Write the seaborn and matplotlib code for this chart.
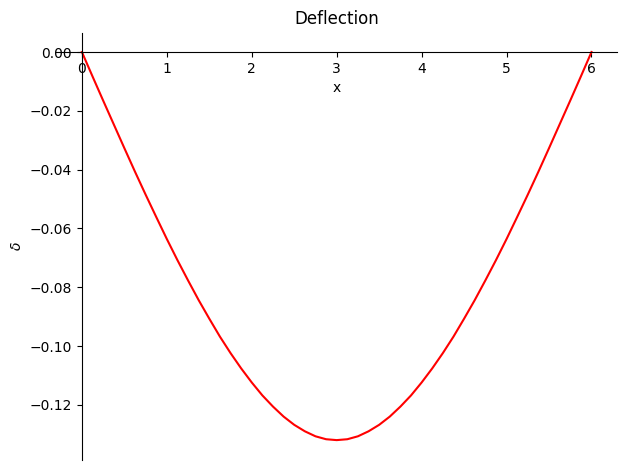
import matplotlib
matplotlib.use("Agg")
import matplotlib.pyplot as plt
import seaborn as sns
import pandas as pd

# values
x_vals = [0.0, 0.125, 0.25, 0.375, 0.5, 0.625, 0.75, 0.875, 1.0, 1.125, 1.25, 1.375,
          1.5, 1.625, 1.75, 1.875, 2.0, 2.125, 2.25, 2.375, 2.5, 2.625, 2.75, 2.875,
          3.0,
          3.125, 3.25, 3.375, 3.5, 3.625, 3.75, 3.875, 4.0, 4.125, 4.25, 4.375,
          4.5, 4.625, 4.75, 4.875, 5.0, 5.125, 5.25, 5.375, 5.5, 5.625, 5.75, 5.875,
          6.0]
deflection = [0.0, -0.0083, -0.0165, -0.0246, -0.0327, -0.0407, -0.0485, -0.0561,
              -0.0636, -0.0708, -0.0777, -0.0844, -0.0907, -0.0968, -0.1024, -0.1076,
              -0.1124, -0.1168, -0.1206, -0.1240, -0.1268, -0.1290, -0.1307, -0.1317,
              -0.1320,
              -0.1317, -0.1307, -0.1290, -0.1268, -0.1240, -0.1206, -0.1168, -0.1124,
              -0.1076, -0.1024, -0.0968, -0.0907, -0.0844, -0.0777, -0.0708, -0.0636,
              -0.0561, -0.0485, -0.0407, -0.0327, -0.0246, -0.0165, -0.0083, 0.0]

df = pd.DataFrame({"x": x_vals, "delta": deflection})

fig, ax = plt.subplots(figsize=(6.27, 4.70), dpi=100)
fig.subplots_adjust(left=0.090, right=0.984, top=0.9306, bottom=0.0223)

sns.lineplot(data=df, x="x", y="delta", color="red", linewidth=1.5, ax=ax)

ax.spines["left"].set_position("zero")
ax.spines["bottom"].set_position("zero")
ax.spines["right"].set_visible(False)
ax.spines["top"].set_visible(False)
ax.set_xlim(-0.3, 6.3)
ax.set_ylim(-0.1386, 0.0066)
ax.set_yticks([0.0, -0.02, -0.04, -0.06, -0.08, -0.10, -0.12])
ax.set_title("Deflection")
ax.set_xlabel("x")
ax.set_ylabel(r"$\delta$")

fig.savefig("out.png", dpi=100)
